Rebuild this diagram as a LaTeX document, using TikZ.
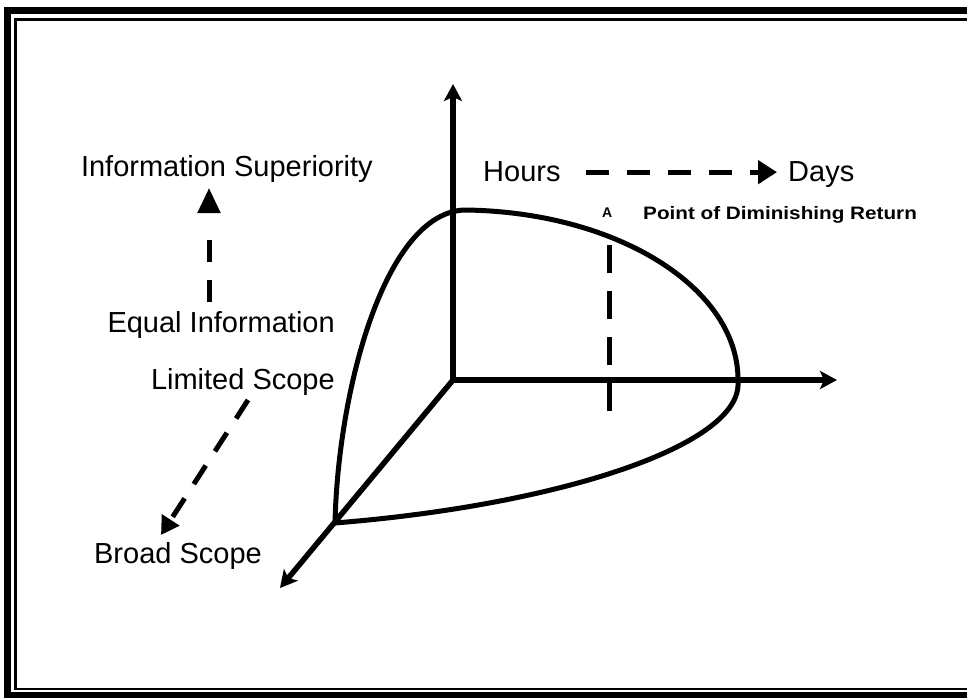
\documentclass[tikz,border=0pt]{standalone}
\usepackage{fontspec}
\setmainfont{Liberation Sans}
\usetikzlibrary{arrows.meta}
\begin{document}
\begin{tikzpicture}[x=1pt,y=-1pt,
  lbl/.style={inner sep=0pt, font=\fontsize{29}{34}\selectfont},
  axis/.style={line width=5.5pt, line cap=round, -{Stealth[length=17pt,width=18pt,inset=4pt]}},
  surface/.style={line width=5pt, line join=round},
  dashline/.style={line width=5pt},
]
\useasboundingbox (0,0) rectangle (967,698);
\clip (0,0) rectangle (967,698);

% double frame
\draw[line width=7pt] (990,11) -- (7.5,11) -- (7.5,695) -- (990,695);
\draw[line width=2.2pt] (990,19.5) -- (15.5,19.5) -- (15.5,689) -- (990,689);

% axes
\coordinate (O) at (453,380);
\coordinate (up) at (453,84);
\coordinate (rt) at (837,380);
\coordinate (dg) at (280,588);
\draw[axis] (O) -- (up);
\draw[axis] (O) -- (rt);
\draw[axis] (O) -- (dg);

% closed surface
\coordinate (J) at (335,523);
\coordinate (T) at (465,210);
\coordinate (R) at (738,382);
\draw[surface] (J) .. controls (338,390) and (385,212) .. (T)
  .. controls (620,212) and (740,290) .. (R)
  .. controls (742,445) and (560,505) .. (J);

% point of diminishing return marker
\coordinate (va) at (609,245);
\coordinate (vb) at (609,425);
\draw[dashline, dash pattern=on 28pt off 18pt] (va) -- (vb);

% labels
\node[lbl, anchor=base east] (sup) at (373,177) {Information Superiority};
\node[lbl, anchor=base east] (eq) at (335,332) {Equal Information};
\node[lbl, anchor=base east] (lim) at (335,389) {Limited Scope};
\node[lbl, anchor=base east] (broad) at (262,563) {Broad Scope};
\node[lbl, anchor=base west] (hours) at (483,182) {Hours};
\node[lbl, anchor=base west] (days) at (788,182) {Days};
\node[inner sep=0pt, anchor=base west, font=\bfseries\fontsize{14}{16}\selectfont] (ptA) at (602,218) {A};
\node[inner sep=0pt, anchor=base west, font=\bfseries\fontsize{18}{20}\selectfont] (pdr) at (643,219) {\scalebox{1.15}[1]{Point of Diminishing Return}};

% dashed direction arrows
\coordinate (ia) at (209,302);
\coordinate (ib) at (209,188);
\draw[dashline, dash pattern=on 22pt off 18pt on 22pt off 80pt,
  -{Triangle[length=25pt,width=22pt]}] (ia) -- (ib);

\draw[dashline, dash pattern=on 23pt off 18pt, shorten <=25pt, shorten >=11pt,
  -{Triangle[length=19pt,width=23pt]}] (hours.east) -- (hours.east -| days.west);

\coordinate (da) at (248,400);
\coordinate (db) at (161,535);
\draw[dashline, dash pattern=on 22pt off 17pt,
  -{Triangle[length=18pt,width=20pt]}] (da) -- (db);
\end{tikzpicture}
\end{document}
